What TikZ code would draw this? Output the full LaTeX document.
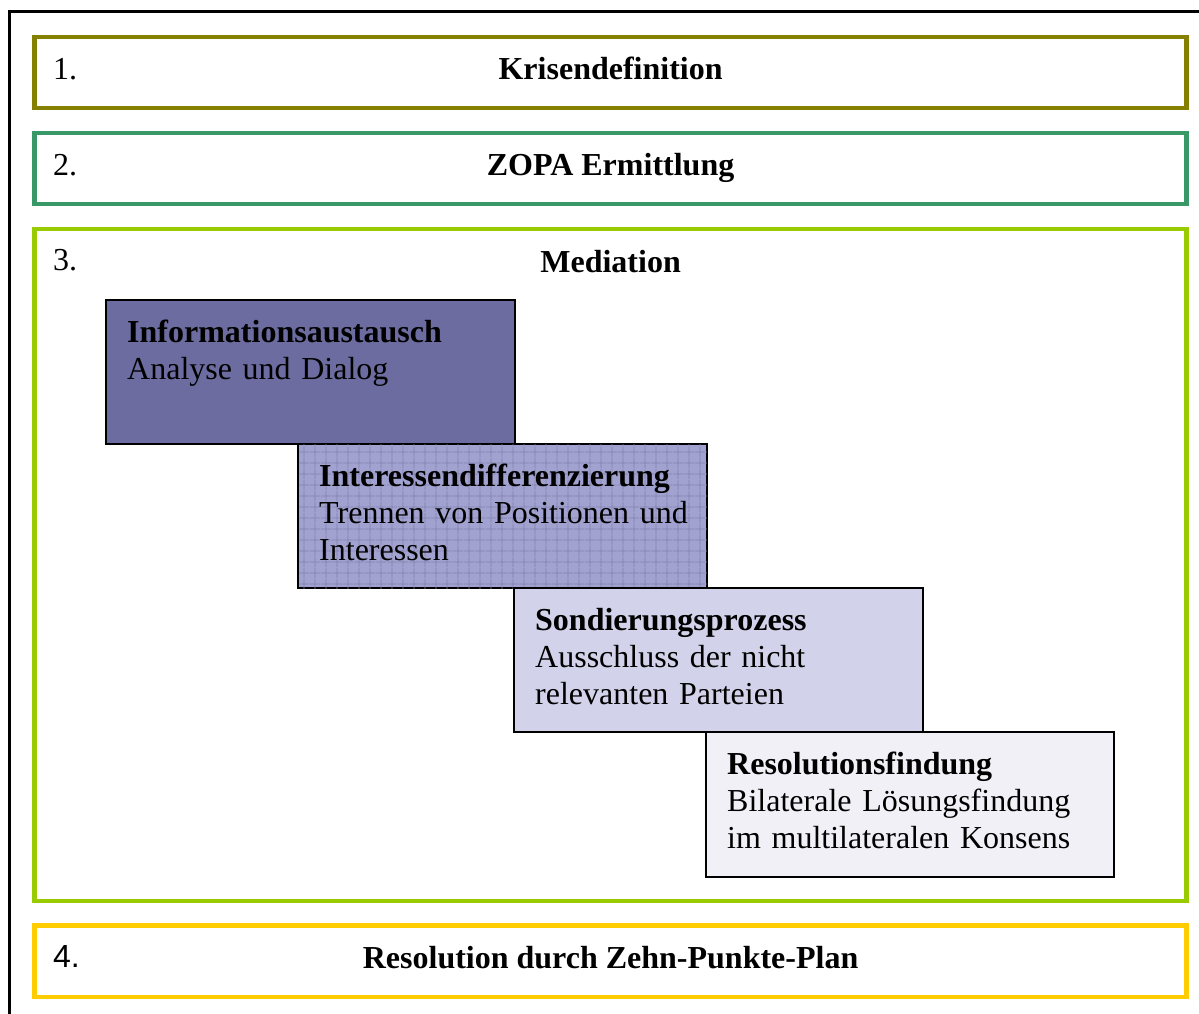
\documentclass[tikz,border=0pt]{standalone}
\usepackage{fontspec}
\setmainfont{Liberation Serif}
\newfontfamily\arialfont{Liberation Sans}
\usepackage{tikz}
\usepackage{xcolor}
\usetikzlibrary{calc}
\usetikzlibrary{patterns.meta}
\definecolor{phaseonec}{RGB}{134,128,0}
\definecolor{phasetwoc}{RGB}{56,152,104}
\definecolor{phasethreec}{RGB}{153,204,0}
\definecolor{phasefourc}{RGB}{255,204,0}
\definecolor{stepac}{RGB}{108,108,160}
\definecolor{stepbc}{RGB}{162,162,208}
\definecolor{stepcc}{RGB}{210,210,234}
\definecolor{stepdc}{RGB}{240,240,246}
\colorlet{stepgridc}{stepac!85!white}
\tikzstyle{phasebox} = [
    rectangle,
    line width=4.3pt,
    minimum width=1152pt,
    inner sep=0pt
    ]
\tikzstyle{phasenum} = [
    anchor=base west,
    inner sep=0pt,
    font=\fontsize{32}{37}\selectfont
    ]
\tikzstyle{phasetitle} = [
    anchor=base,
    inner sep=0pt,
    font=\fontsize{32}{37}\selectfont\bfseries
    ]
\tikzstyle{stepbox} = [
    draw=black,
    line width=2pt,
    rectangle,
    anchor=north west,
    outer sep=0pt,
    inner sep=0pt,
    minimum width=409pt,
    minimum height=144pt
    ]
\tikzstyle{steptext} = [
    anchor=base west,
    inner sep=0pt,
    text width=385pt,
    align=left,
    font=\fontsize{32}{37}\selectfont
    ]

\begin{document}
\begin{tikzpicture}[x=1pt,y=-1pt]
\useasboundingbox (0,0) rectangle (1199,1014);
\clip (0,0) rectangle (1199,1014);
% outer frame
\draw[line width=3pt] (9.3,1040) |- (1230,11.7);

% phases
\node[phasebox, draw=phaseonec, minimum height=71.2pt] (krise) at (610.6,72.6) {};
\node[phasebox, draw=phasetwoc, minimum height=71pt] (zopa) at (610.6,168.5) {};
\node[phasebox, draw=phasethreec, minimum height=671.4pt] (med) at (610.6,565) {};
\node[phasebox, draw=phasefourc, minimum height=71.7pt] (reso) at (610.6,961.2) {};

\node[phasenum] (krise-n) at ($(krise.north west)+(20.5,45)$) {1.};
\node[phasetitle] (krise-t) at ($(krise.north)+(0,45)$) {Krisendefinition};
\node[phasenum] (zopa-n) at ($(zopa.north west)+(20.5,45)$) {2.};
\node[phasetitle] (zopa-t) at ($(zopa.north)+(0,45)$) {ZOPA Ermittlung};
\node[phasenum] (med-n) at ($(med.north west)+(20.5,43)$) {3.};
\node[phasetitle] (med-t) at ($(med.north)+(0,45)$) {Mediation};
\node[phasenum, font=\fontsize{32}{37}\arialfont] (reso-n) at ($(reso.north west)+(20.5,44)$) {4.};
\node[phasetitle] (reso-t) at ($(reso.north)+(0,45)$) {Resolution durch Zehn-Punkte-Plan};

% mediation steps
\node[stepbox, fill=stepac] (info) at (106,300) {};
\node[stepbox, fill=stepbc,
    postaction={pattern={Hatch[angle=0,distance=10.5pt,line width=0.7pt]}, pattern color=stepgridc}]
    (inter) at (298,444) {};
\node[stepbox, fill=stepcc] (sond) at (514,588) {};
\node[stepbox, fill=stepdc, minimum width=408pt, minimum height=145pt] (resf) at (706,732) {};

\node[steptext] (info-t) at ($(info.north west)+(21,42)$)
    {\textbf{Informationsaustausch}\\Analyse und Dialog};
\node[steptext] (inter-t) at ($(inter.north west)+(21,42)$)
    {\textbf{Interessendifferenzierung}\\Trennen von Positionen und\\Interessen};
\node[steptext] (sond-t) at ($(sond.north west)+(21,42)$)
    {\textbf{Sondierungsprozess}\\Ausschluss der nicht\\relevanten Parteien};
\node[steptext] (resf-t) at ($(resf.north west)+(21,42)$)
    {\textbf{Resolutionsfindung}\\Bilaterale Lösungsfindung\\im multilateralen Konsens};
\end{tikzpicture}
\end{document}
